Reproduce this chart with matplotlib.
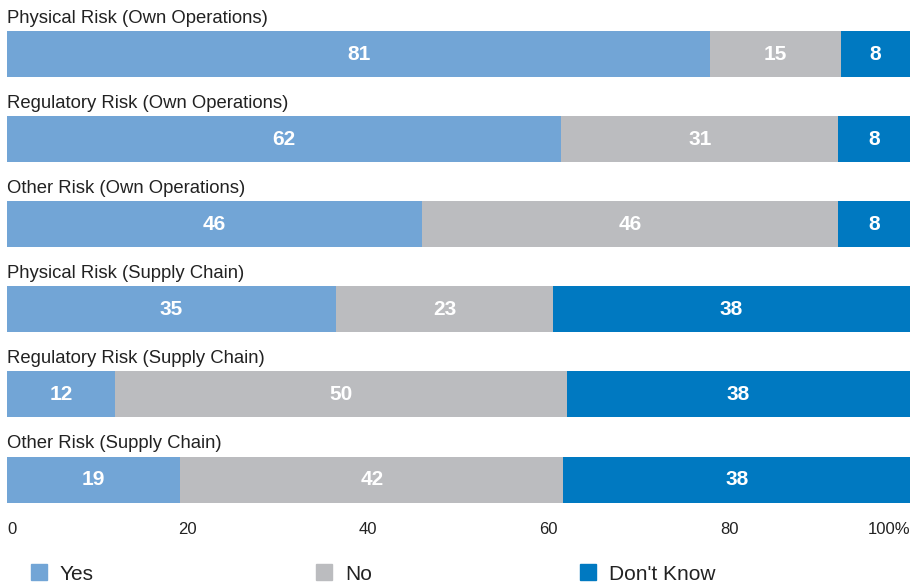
import matplotlib
matplotlib.use("Agg")
from matplotlib import pyplot as plt
from matplotlib.patches import Patch
import numpy as np

plt.rcParams['font.family'] = ['Liberation Sans', 'DejaVu Sans']

categories = ["Physical Risk (Own Operations)",
              "Regulatory Risk (Own Operations)",
              "Other Risk (Own Operations)",
              "Physical Risk (Supply Chain)",
              "Regulatory Risk (Supply Chain)",
              "Other Risk (Supply Chain)"]
yes = [81, 62, 46, 35, 12, 19]
no = [15, 31, 46, 23, 50, 42]
dontKnow = [8, 8, 8, 38, 38, 38]

seriesNames = ["Yes", "No", "Don't Know"]
colours = ["#72a5d6", "#bbbcbf", "#0079c1"]
xTicks = [0, 20, 40, 60, 80, 100]
xTickLabels = ["0", "20", "40", "60", "80", "100%"]

fig = plt.figure(figsize=(9.10, 5.87), dpi=100)
W, H = 910, 587
ax = fig.add_axes([7 / W, 1 - 510 / H, 903 / W, 510 / H])

series = [yes, no, dontKnow]
totals = np.array(yes) + np.array(no) + np.array(dontKnow)
ypos = np.arange(len(categories))
barH = 0.54
left = np.zeros(len(categories))
for vals, col in zip(series, colours):
    share = np.array(vals) / totals * 100
    bars = ax.barh(ypos, share, left=left, height=barH, color=col, linewidth=0)
    ax.bar_label(bars, labels=[str(v) for v in vals], label_type="center",
                 color="white", fontsize=15, fontweight="bold")
    left += share

for i, name in enumerate(categories):
    ax.text(0, i - barH / 2 - 0.05, name, ha="left", va="bottom",
            fontsize=13.3, color="#222222")

ax.set_xlim(0, 100)
ax.set_ylim(5.358, -0.6345)
ax.set_yticks([])
ax.set_xticks(xTicks)
ax.set_xticklabels(xTickLabels, fontsize=12, color="#222222")
ax.get_xticklabels()[0].set_horizontalalignment("left")
ax.get_xticklabels()[-1].set_horizontalalignment("right")
ax.tick_params(axis="x", length=0, pad=9)
for s in ax.spines.values():
    s.set_visible(False)

legX = [31, 316, 580]
for name, col, x in zip(seriesNames, colours, legX):
    fig.legend(handles=[Patch(color=col, label=name)], loc="center left",
               bbox_to_anchor=(x / W, 1 - 574 / H), frameon=False,
               fontsize=15, handlelength=0.77, handleheight=0.77,
               handletextpad=0.62, borderpad=0, borderaxespad=0,
               labelcolor="#222222")

fig.savefig("out.png", dpi=100)
